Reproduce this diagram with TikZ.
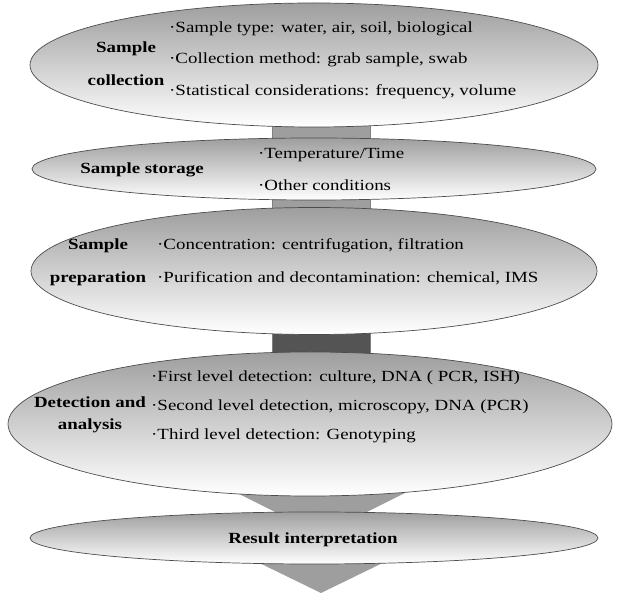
\documentclass[tikz,border=0pt]{standalone}
\usepackage{fontspec}
\setmainfont{Liberation Serif}[FakeStretch=1.22]
\usetikzlibrary{calc,positioning,shapes.geometric}
\definecolor{bargrey}{gray}{0.62}
\definecolor{darkbar}{gray}{0.33}
\definecolor{rimgrey}{gray}{0.3}
\newcommand{\bul}{\textperiodcentered}

\begin{document}
\begin{tikzpicture}[x=1pt,y=-1pt]

\tikzset{stage/.style={shape=ellipse,draw=rimgrey,line width=0.7pt,top color=black!38,middle color=black!17,bottom color=white,inner sep=0pt},
stagelabel/.style={font=\fontsize{15.5}{33}\selectfont\bfseries,align=center,inner sep=0pt},
items/.style={font=\fontsize{15.5}{31.5}\selectfont,align=left,anchor=west,inner sep=0pt},
barfill/.style={fill=bargrey,draw=black!50,line width=0.4pt},
arrowfill/.style={fill=bargrey,draw=none}}

\useasboundingbox (0,0) rectangle (622,593);

% Bars behind the stages
\fill[barfill] (272,120) rectangle (370,215);
\fill[barfill,fill=darkbar] (272,325) rectangle (370,360);

% Arrow heads
\coordinate (tipA) at (321,535);
\coordinate (tipB) at (321,593);
\fill[arrowfill] ($(tipA)+(-84,-42)$) -- ($(tipA)+(84,-42)$) -- (tipA) -- cycle;
\fill[arrowfill] ($(tipB)+(-78,-38)$) -- ($(tipB)+(78,-38)$) -- (tipB) -- cycle;

% Stages
\node[stage,minimum width=568pt,minimum height=124pt] (collect) at (314,65) {};
\node[stage,minimum width=564pt,minimum height=62pt] (store) at (314,169) {};
\node[stage,minimum width=566pt,minimum height=127pt] (prep) at (314,271) {};
\node[stage,minimum width=604pt,minimum height=144pt] (detect) at (310,424) {};
\node[stage,minimum width=568pt,minimum height=52pt] (result) at (314,538) {};

% Labels
\node[stagelabel] (collectlbl) at (126,64) {Sample\\collection};
\node[stagelabel] (storelbl) at (142,170) {Sample storage};
\node[stagelabel] (preplbl) at (98,262) {Sample\\preparation};
\node[stagelabel,font=\fontsize{15.5}{22}\selectfont\bfseries] (detectlbl) at (90,415) {Detection and\\analysis};
\node[stagelabel] (resultlbl) at (313,540) {Result interpretation};

% Bullet lists
\node[items] (collectitems) at (169,60) {\bul Sample type: water, air, soil, biological\\\bul Collection method: grab sample, swab\\\bul Statistical considerations: frequency, volume};
\node[items,font=\fontsize{15.5}{32}\selectfont] (storeitems) at (258,169) {\bul Temperature/Time\\\bul Other conditions};
\node[items,font=\fontsize{15.5}{33}\selectfont] (prepitems) at (157,262) {\bul Concentration: centrifugation, filtration\\\bul Purification and decontamination: chemical, IMS};
\node[items,font=\fontsize{15.5}{29}\selectfont] (detectitems) at (151,407) {\bul First level detection: culture, DNA ( PCR, ISH)\\\bul Second level detection, microscopy, DNA (PCR)\\\bul Third level detection: Genotyping};

\end{tikzpicture}
\end{document}
